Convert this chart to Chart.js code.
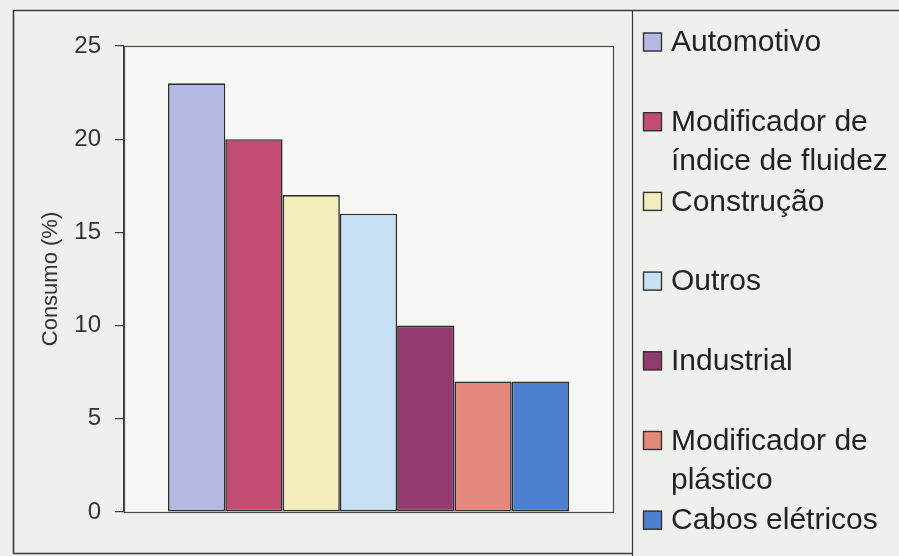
<!DOCTYPE html>
<html>
<head>
<meta charset="utf-8">
<title>Consumo (%)</title>
<script src="https://cdn.jsdelivr.net/npm/chart.js@4/dist/chart.umd.min.js"></script>
<style>
  html, body { margin: 0; padding: 0; background: #efefeb; }
  #wrap { width: 899px; height: 556px; position: relative; }
  canvas { display: block; }
</style>
</head>
<body>
<div id="wrap"><canvas id="chart" width="899" height="556"></canvas></div>
<script>
// Consumption share by application segment (%)
const seriesNames = [
  'Automotivo',
  'Modificador de índice de fluidez',
  'Construção',
  'Outros',
  'Industrial',
  'Modificador de plástico',
  'Cabos elétricos'
];
const consumo = [23, 20, 17, 16, 10, 7, 7];
const seriesColors = ['#b3b9e3', '#c34d71', '#f4ecbb', '#c8e0f3', '#953a71', '#e4887c', '#4d81d0'];
const yTicks = [0, 5, 10, 15, 20, 25];
const axisTitle = 'Consumo (%)';

const FONT = "'Liberation Sans', Arial, sans-serif";

// Page frame, plot background and plot border
const framePlugin = {
  id: 'frame',
  beforeDraw(chart) {
    const { ctx, chartArea: a } = chart;
    ctx.save();
    ctx.fillStyle = '#efefeb';
    ctx.fillRect(0, 0, chart.width, chart.height);
    ctx.fillStyle = '#f6f6f3';
    ctx.fillRect(a.left, a.top, a.right - a.left, a.bottom - a.top);
    ctx.strokeStyle = '#3a3a3a';
    ctx.lineWidth = 1.6;
    ctx.beginPath();
    ctx.moveTo(chart.width, 10.5);
    ctx.lineTo(13.5, 10.5);
    ctx.lineTo(13.5, 553.5);
    ctx.lineTo(632, 553.5);
    ctx.stroke();
    ctx.lineWidth = 1.2;
    ctx.beginPath();
    ctx.moveTo(632.5, 10.5);
    ctx.lineTo(632.5, chart.height);
    ctx.stroke();
    ctx.restore();
  },
  afterDatasetsDraw(chart) {
    const { ctx, chartArea: a } = chart;
    ctx.save();
    ctx.strokeStyle = '#4a4a4a';
    ctx.lineWidth = 1.2;
    ctx.strokeRect(a.left + 0.5, a.top + 0.5, a.right - a.left, a.bottom - a.top);
    ctx.restore();
  }
};

// Legend drawn at the right, with word-wrapped labels
const sideLegend = {
  id: 'sideLegend',
  afterDraw(chart) {
    const { ctx } = chart;
    const boxX = 643, boxSize = 19, textX = 671, maxW = 226;
    const firstY = 42, pitch = 79.7, lineH = 39;
    ctx.save();
    ctx.font = '30px ' + FONT;
    ctx.textBaseline = 'middle';
    ctx.textAlign = 'left';
    chart.data.datasets.forEach((ds, i) => {
      const y = firstY + i * pitch;
      ctx.fillStyle = ds.backgroundColor;
      ctx.fillRect(boxX, y - boxSize / 2, boxSize, boxSize);
      ctx.strokeStyle = '#333333';
      ctx.lineWidth = 1.4;
      ctx.strokeRect(boxX + 0.5, y - boxSize / 2 + 0.5, boxSize - 1, boxSize - 1);
      // wrap label words into lines that fit
      const words = ds.label.split(' ');
      const lines = [];
      let cur = '';
      words.forEach(w => {
        const test = cur ? cur + ' ' + w : w;
        if (cur && ctx.measureText(test).width > maxW) {
          lines.push(cur);
          cur = w;
        } else {
          cur = test;
        }
      });
      if (cur) lines.push(cur);
      ctx.fillStyle = '#222222';
      lines.forEach((ln, k) => ctx.fillText(ln, textX, y + k * lineH + 1));
    });
    ctx.restore();
  }
};

new Chart(document.getElementById('chart'), {
  type: 'bar',
  data: {
    labels: [''],
    datasets: seriesNames.map((name, i) => ({
      label: name,
      data: [consumo[i]],
      backgroundColor: seriesColors[i],
      borderColor: '#2e2e2e',
      borderWidth: 1.6,
      borderSkipped: false
    }))
  },
  options: {
    responsive: false,
    animation: false,
    devicePixelRatio: 1,
    layout: { padding: { left: 13, top: 46, right: 286, bottom: 36 } },
    datasets: { bar: { categoryPercentage: 0.82, barPercentage: 1.0 } },
    plugins: {
      legend: { display: false },
      tooltip: { enabled: false },
      title: { display: false }
    },
    scales: {
      x: {
        type: 'category',
        offset: true,
        grid: { display: false },
        border: { display: false },
        ticks: { display: false }
      },
      y: {
        min: 0,
        max: 25,
        afterFit(scale) { scale.width = 111; },
        afterBuildTicks(scale) { scale.ticks = yTicks.map(v => ({ value: v })); },
        grid: {
          drawOnChartArea: false,
          drawTicks: true,
          tickLength: 9,
          color: '#3a3a3a',
          lineWidth: 1.2
        },
        border: { display: true, color: '#3a3a3a', width: 1.2 },
        ticks: {
          padding: 14,
          color: '#333333',
          font: { family: FONT, size: 24 }
        },
        title: {
          display: true,
          text: axisTitle,
          color: '#333333',
          font: { family: FONT, size: 22 },
          padding: { top: 25, bottom: 0 }
        }
      }
    }
  },
  plugins: [framePlugin, sideLegend]
});
</script>
</body>
</html>
